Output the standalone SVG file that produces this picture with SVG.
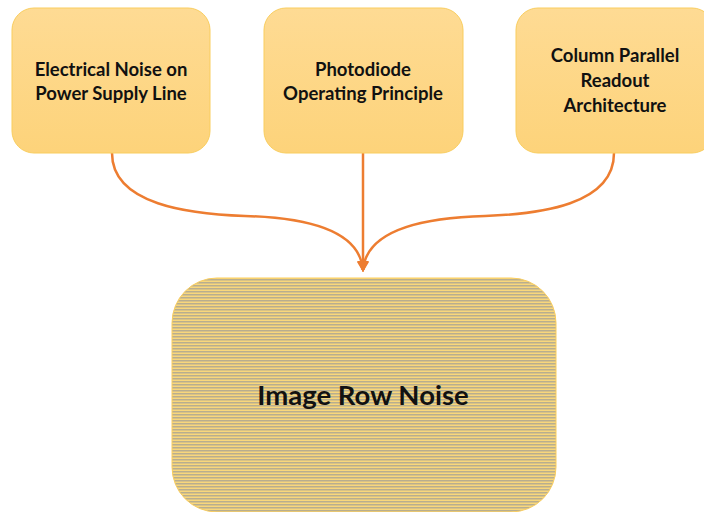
<svg xmlns="http://www.w3.org/2000/svg" width="704" height="512" viewBox="0 0 704 512">
<defs>
<linearGradient id="boxg" x1="0" y1="0" x2="0" y2="1">
<stop offset="0" stop-color="#fedb94"/>
<stop offset="1" stop-color="#fdd37a"/>
</linearGradient>
<pattern id="stripes" x="0" y="0" width="8" height="3" patternUnits="userSpaceOnUse">
<rect width="8" height="3" fill="#f8d77c"/>
<rect width="8" height="1.5" fill="#b8ae8f"/>
</pattern>
<marker id="arrow" viewBox="0 0 10 10" refX="8" refY="5" markerWidth="4.5" markerHeight="4.5" orient="auto" markerUnits="strokeWidth">
<path d="M0,0 L10,5 L0,10 Z" fill="#ed7d31"/>
</marker>
</defs>
<style>
.box{fill:url(#boxg);stroke:#f9cd5e;stroke-width:1}
.lbl{font-family:Lato,"Open Sans","Liberation Sans",sans-serif;font-weight:bold;font-size:18.5px;fill:#111;text-anchor:middle}
.conn{fill:none;stroke:#ed7d31;stroke-width:2.5}
</style>
<rect width="704" height="512" fill="#ffffff"/>
<g id="connectors">
<path class="conn" d="M112,153 C112,205 190,214 245,216 C320,218 360,235 363,270" marker-end="url(#arrow)"/>
<path class="conn" d="M363,153 L363,270" marker-end="url(#arrow)"/>
<path class="conn" d="M614,153 C614,205 540,214 485,216 C410,218 366,235 363,270" marker-end="url(#arrow)"/>
</g>
<g id="node1">
<rect class="box" x="12" y="8" width="198" height="145" rx="22"/>
<text class="lbl" x="111" y="76">Electrical Noise on</text>
<text class="lbl" x="111" y="100">Power Supply Line</text>
</g>
<g id="node2">
<rect class="box" x="264" y="8" width="199" height="145" rx="22"/>
<text class="lbl" x="363" y="76">Photodiode</text>
<text class="lbl" x="363" y="100">Operating Principle</text>
</g>
<g id="node3">
<rect class="box" x="516" y="8" width="198" height="145" rx="22"/>
<text class="lbl" x="615" y="62">Column Parallel</text>
<text class="lbl" x="615" y="87">Readout</text>
<text class="lbl" x="615" y="112">Architecture</text>
</g>
<g id="node4">
<rect x="172" y="278" width="384" height="234" rx="45" fill="url(#stripes)" stroke="#f9cd5e" stroke-width="1"/>
<text x="363" y="405" style="font-family:Lato,'Open Sans','Liberation Sans',sans-serif;font-weight:bold;font-size:27.5px;fill:#111;text-anchor:middle">Image Row Noise</text>
</g>
</svg>
